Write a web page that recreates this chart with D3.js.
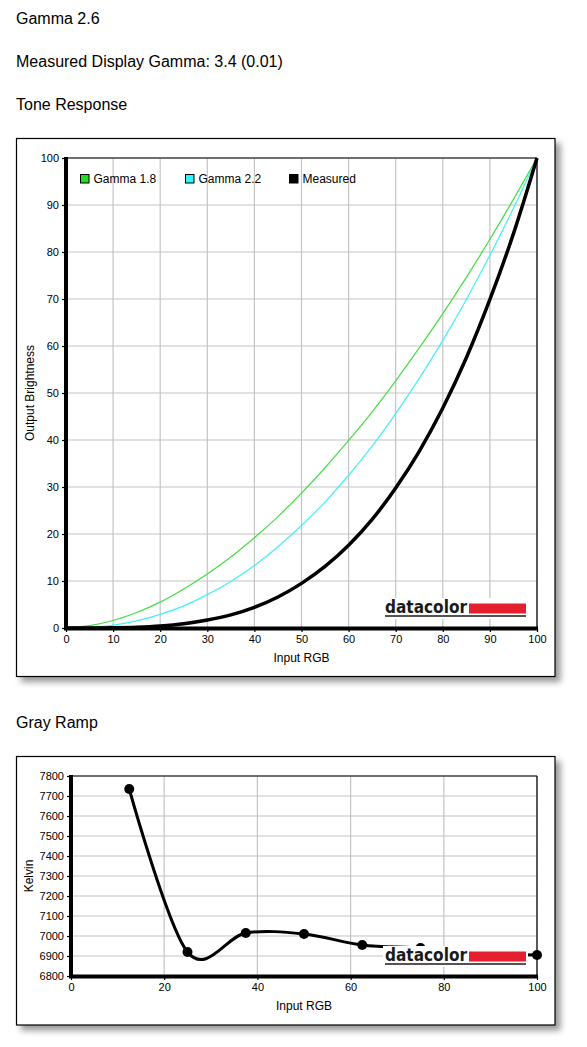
<!DOCTYPE html>
<html>
<head>
<meta charset="utf-8">
<script src="https://cdn.jsdelivr.net/npm/d3@7"></script>
<style>
  html, body { margin: 0; padding: 0; background: #fff; }
  svg { display: block; }
  text { font-family: Arial, "Liberation Sans", sans-serif; fill: #000; }
</style>
</head>
<body>
<svg id="page" width="587" height="1047"></svg>
<script>
// ---------- data ----------
const titleLines = ["Gamma 2.6", "Measured Display Gamma: 3.4 (0.01)", "Tone Response"];
const grayTitle = "Gray Ramp";

const toneInput = [0, 5, 10, 15, 20, 25, 30, 35, 40, 45, 50, 55, 60, 65, 70, 75, 80, 85, 90, 95, 100];
const gamma18 = [0, 0.5, 1.6, 3.3, 5.5, 8.3, 11.5, 15.1, 19.2, 23.7, 28.7, 34.1, 39.9, 46.0, 52.6, 59.6, 66.9, 74.6, 82.7, 91.2, 100];
const gamma22 = [0, 0.1, 0.6, 1.5, 2.9, 4.7, 7.1, 9.9, 13.3, 17.3, 21.8, 26.8, 32.5, 38.7, 45.6, 53.1, 61.2, 69.9, 79.3, 89.3, 100];
const measured = [0, 0.0, 0.05, 0.16, 0.42, 0.9, 1.7, 2.8, 4.4, 6.6, 9.5, 13.1, 17.6, 23.1, 29.8, 37.6, 46.8, 57.5, 69.9, 83.9, 100];
const toneSeries = ["Gamma 1.8", "Gamma 2.2", "Measured"];
const toneTicks = [0, 10, 20, 30, 40, 50, 60, 70, 80, 90, 100];

const grayInput = [12.5, 25, 37.5, 50, 62.5, 75, 87.5, 100];
const grayKelvin = [7735, 6920, 7015, 7010, 6955, 6940, 6915, 6905];
const grayXTicks = [0, 20, 40, 60, 80, 100];
const grayYTicks = [6800, 6900, 7000, 7100, 7200, 7300, 7400, 7500, 7600, 7700, 7800];

// ---------- page ----------
const svg = d3.select("#page");
const defs = svg.append("defs");
const f = defs.append("filter").attr("id", "shadow").attr("x", "-5%").attr("y", "-5%").attr("width", "115%").attr("height", "115%");
f.append("feDropShadow").attr("dx", 5).attr("dy", 5).attr("stdDeviation", 3)
  .attr("flood-color", "#000").attr("flood-opacity", 0.4);

svg.selectAll("text.title").data(titleLines).enter().append("text")
  .attr("x", 16).attr("y", (d, i) => [24, 67, 110][i])
  .style("font-size", "16px").text(d => d);
svg.append("text").attr("x", 16).attr("y", 728).style("font-size", "16px").text(grayTitle);

function frame(x, y, w, h) {
  svg.append("rect").attr("x", x).attr("y", y).attr("width", w).attr("height", h)
    .attr("fill", "#fff").attr("stroke", "#000").attr("stroke-width", 1.2)
    .attr("filter", "url(#shadow)");
}

function logo(g, xLeft, baseline) {
  const lg = g.append("g");
  lg.append("rect").attr("x", xLeft - 2).attr("y", baseline - 15).attr("width", 145).attr("height", 21).attr("fill", "#fff");
  lg.append("text").attr("x", xLeft).attr("y", baseline)
    .attr("textLength", 82).attr("lengthAdjust", "spacingAndGlyphs")
    .style("font-family", "'DejaVu Sans', sans-serif")
    .style("font-size", "18px").style("font-weight", "bold").style("fill", "#1a1a1a").text("datacolor");
  lg.append("rect").attr("x", xLeft + 84).attr("y", baseline - 9.5).attr("width", 57).attr("height", 10).attr("fill", "#e5202e");
  lg.append("line").attr("x1", xLeft).attr("x2", xLeft + 141).attr("y1", baseline + 3).attr("y2", baseline + 3)
    .attr("stroke", "#1a1a1a").attr("stroke-width", 1.5);
}

function drawAxes(g, x, y, xTicks, yTicks, x0, x1, y0, y1) {
  g.selectAll("line.vg").data(xTicks.filter(t => t !== xTicks[0])).enter().append("line")
    .attr("x1", d => x(d)).attr("x2", d => x(d)).attr("y1", y1).attr("y2", y0)
    .attr("stroke", "#c4c4c4").attr("stroke-width", 1.2);
  g.selectAll("line.hg").data(yTicks.filter(t => t !== yTicks[0])).enter().append("line")
    .attr("x1", x0).attr("x2", x1).attr("y1", d => y(d)).attr("y2", d => y(d))
    .attr("stroke", "#c4c4c4").attr("stroke-width", 1.2);
  g.append("line").attr("x1", x0).attr("x2", x1).attr("y1", y1).attr("y2", y1).attr("stroke", "#000").attr("stroke-width", 1.2);
  g.append("line").attr("x1", x1).attr("x2", x1).attr("y1", y1).attr("y2", y0).attr("stroke", "#000").attr("stroke-width", 1.2);

  const xa = g.append("g").attr("transform", `translate(0,${y0})`)
    .call(d3.axisBottom(x).tickValues(xTicks).tickSize(4).tickPadding(3).tickFormat(d3.format("d")));
  const ya = g.append("g").attr("transform", `translate(${x0},0)`)
    .call(d3.axisLeft(y).tickValues(yTicks).tickSize(4).tickPadding(3).tickFormat(d3.format("d")));
  [xa, ya].forEach(a => {
    a.select(".domain").remove();
    a.selectAll(".tick line").attr("stroke", "#000").attr("stroke-width", 1.2);
    a.selectAll(".tick text").style("font-size", "11px").style("font-family", "Arial, 'Liberation Sans', sans-serif").attr("fill", "#000");
  });
}

// ---------- Tone Response ----------
frame(16.5, 138.5, 538.5, 538);
{
  const g = svg.append("g");
  const x0 = 66, x1 = 537, y0 = 628, y1 = 158;
  const x = d3.scaleLinear().domain([0, 100]).range([x0, x1]);
  const y = d3.scaleLinear().domain([0, 100]).range([y0, y1]);
  drawAxes(g, x, y, toneTicks, toneTicks, x0, x1, y0, y1);

  const line = d3.line().x(d => x(d[0])).y(d => y(d[1])).curve(d3.curveMonotoneX);
  const series = [
    { vals: gamma18, color: "#44dd44", w: 1.2 },
    { vals: gamma22, color: "#44eef8", w: 1.2 },
    { vals: measured, color: "#000", w: 3.5 }
  ];
  series.forEach(s => {
    g.append("path").datum(toneInput.map((v, i) => [v, s.vals[i]]))
      .attr("d", line).attr("fill", "none").attr("stroke", s.color).attr("stroke-width", s.w)
      .attr("stroke-linejoin", "round");
  });

  const legX = [80, 185, 289];
  const legColor = ["#22dd22", "#33f4f8", "#000"];
  toneSeries.forEach((name, i) => {
    g.append("rect").attr("x", legX[i] + 0.5).attr("y", 174.5).attr("width", 8.5).attr("height", 8.5)
      .attr("fill", legColor[i]).attr("stroke", "#000").attr("stroke-width", 1);
    g.append("text").attr("x", legX[i] + 13.5).attr("y", 183).style("font-size", "12px").text(name);
  });

  g.append("line").attr("x1", x0).attr("x2", x0).attr("y1", y1 - 1).attr("y2", y0 + 2).attr("stroke", "#000").attr("stroke-width", 4);
  g.append("line").attr("x1", x0 - 2).attr("x2", x1 + 1).attr("y1", y0 + 0.5).attr("y2", y0 + 0.5).attr("stroke", "#000").attr("stroke-width", 4);

  g.append("text").attr("x", (x0 + x1) / 2).attr("y", 662).attr("text-anchor", "middle").style("font-size", "12px").text("Input RGB");
  g.append("text").attr("transform", `translate(34,${(y0 + y1) / 2}) rotate(-90)`).attr("text-anchor", "middle")
    .style("font-size", "12px").text("Output Brightness");

  logo(g, 385, 613);
}

// ---------- Gray Ramp ----------
frame(16.5, 756.5, 538.5, 268.5);
{
  const g = svg.append("g");
  const x0 = 71, x1 = 537, y0 = 976, y1 = 776;
  const x = d3.scaleLinear().domain([0, 100]).range([x0, x1]);
  const y = d3.scaleLinear().domain([6800, 7800]).range([y0, y1]);
  drawAxes(g, x, y, grayXTicks, grayYTicks, x0, x1, y0, y1);

  const pts = grayInput.map((v, i) => [v, grayKelvin[i]]);
  const line = d3.line().x(d => x(d[0])).y(d => y(d[1])).curve(d3.curveCardinal.tension(0));
  g.append("path").datum(pts).attr("d", line).attr("fill", "none").attr("stroke", "#000").attr("stroke-width", 3);
  g.selectAll("circle.pt").data(pts).enter().append("circle")
    .attr("cx", d => x(d[0])).attr("cy", d => y(d[1])).attr("r", 5).attr("fill", "#000");

  g.append("line").attr("x1", x0).attr("x2", x0).attr("y1", y1 - 1).attr("y2", y0 + 2).attr("stroke", "#000").attr("stroke-width", 4);
  g.append("line").attr("x1", x0 - 2).attr("x2", x1 + 1).attr("y1", y0 + 0.5).attr("y2", y0 + 0.5).attr("stroke", "#000").attr("stroke-width", 4);

  g.append("text").attr("x", (x0 + x1) / 2).attr("y", 1010).attr("text-anchor", "middle").style("font-size", "12px").text("Input RGB");
  g.append("text").attr("transform", `translate(33,${(y0 + y1) / 2}) rotate(-90)`).attr("text-anchor", "middle")
    .style("font-size", "12px").text("Kelvin");

  logo(g, 385, 961);
}
</script>
</body>
</html>
